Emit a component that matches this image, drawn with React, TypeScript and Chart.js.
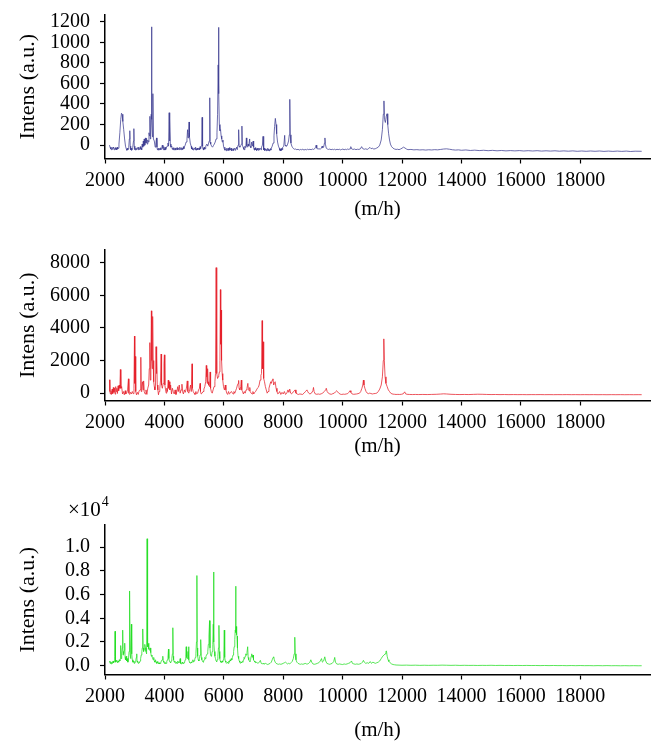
import React, { useEffect, useRef } from "react";
import { Chart, registerables } from "chart.js";

Chart.register(...registerables);

// ---------- data ----------
const X_TICKS = [2000, 4000, 6000, 8000, 10000, 12000, 14000, 16000, 18000];
const Y_TICKS_1 = [0, 200, 400, 600, 800, 1000, 1200];
const Y_TICKS_2 = [0, 2000, 4000, 6000, 8000];
const Y_TICKS_3 = [0, 2000, 4000, 6000, 8000, 10000]; // shown as ×10^4

const X_TITLE = "(m/h)";
const Y_TITLE = "Intens (a.u.)";

// [m/z, intensity]
const BLUE_SPECTRUM: [number, number][] = [
  [2150, 0], [2170, -20], [2185, -38], [2200, -30], [2215, -45], [2230, -22], [2245, -40], [2260, -35], [2275, -20], [2290, -28], [2305, -45], [2320, -38], [2335, -30], [2350, -25],
  [2365, -42], [2380, -33], [2395, -45], [2410, -20], [2425, -38], [2440, -30], [2470, 10], [2500, 120], [2530, 250], [2555, 310], [2575, 300],
  [2600, 230], [2630, 150], [2660, 60], [2690, -10], [2720, -40], [2735, -50], [2750, -30], [2765, -45], [2780, -38], [2800, -20],
  [2820, 60], [2835, 140], [2850, -10], [2865, -45], [2880, -30], [2895, -50], [2910, -40], [2925, -30], [2940, -25], [2960, 40], [2972, 160],
  [2985, -10], [3000, -45], [3010, -35], [3025, -48], [3040, -28], [3055, -44], [3070, -38], [3085, -25], [3100, -30], [3115, -45], [3130, -20], [3145, -42], [3160, -35], [3175, -28], [3190, -15],
  [3205, -40], [3220, -30], [3235, -45], [3250, 10], [3270, -20], [3290, 40], [3305, -10], [3320, 60], [3340, 0], [3360, 70],
  [3380, 20], [3400, 65], [3420, 10], [3440, 50], [3460, 30], [3480, 120], [3500, 90], [3512, 280],
  [3525, 60], [3540, 100], [3555, 300], [3566, 1150], [3580, 250], [3600, 80], [3612, 500], [3630, 60],
  [3660, 40], [3690, -20], [3710, 10], [3735, 70], [3750, -20], [3765, -45], [3780, -35], [3795, -48], [3810, -28], [3825, -46], [3840, -40],
  [3855, -30], [3870, -25], [3885, -45], [3900, -38], [3915, -20], [3930, 0], [3950, -30], [3965, -45], [3980, -15], [4000, -35], [4015, -48], [4030, -22], [4045, -42], [4060, -30],
  [4090, -10], [4120, 20], [4140, -10], [4160, 315], [4172, 40], [4185, 255], [4200, 10], [4220, -20],
  [4250, -10], [4265, -40], [4280, -30], [4295, -45], [4310, -25], [4325, -46], [4340, -38], [4355, -28], [4370, -30], [4385, -48], [4400, -35], [4415, -26], [4430, -25], [4445, -45], [4460, -40],
  [4475, -28], [4490, -30], [4505, -44], [4520, -20], [4535, -40], [4550, -35], [4565, -45], [4580, -25], [4595, -40], [4610, -30], [4625, -42], [4640, -15], [4655, -35], [4670, -20], [4700, 0],
  [4730, 30], [4760, 60], [4780, 150], [4795, 70], [4815, 120], [4830, 225], [4845, 80], [4870, 20],
  [4900, -10], [4915, -38], [4930, -25], [4945, -45], [4960, -30], [4975, -48], [4990, -40], [5005, -28], [5020, -30], [5035, -46], [5050, -20], [5065, -42], [5080, -35], [5095, -48], [5110, -28],
  [5125, -45], [5140, -40], [5155, -30], [5170, -30], [5185, -44], [5200, -15], [5215, -38], [5230, -25], [5255, 0], [5270, 270], [5285, -10], [5300, -42], [5310, -30],
  [5325, -45], [5340, -20], [5355, -40], [5370, -35], [5385, -20], [5400, -10], [5430, 10], [5460, -10], [5490, 20], [5510, 40], [5527, 460],
  [5540, 30], [5560, 10], [5590, -10], [5620, -20], [5650, -5], [5680, 10], [5710, 30], [5740, 60],
  [5770, 120], [5790, 300], [5810, 780], [5822, 1145], [5835, 500], [5850, 200], [5870, 140], [5890, 150],
  [5910, 90], [5930, 60], [5950, 30], [5970, 50], [5990, -10], [6010, -30], [6025, -50], [6040, -20], [6055, -45], [6070, -40],
  [6085, -55], [6100, -30], [6115, -50], [6130, -45], [6145, -30], [6160, -35], [6175, -52], [6190, -25], [6205, -48], [6220, -45], [6235, -35], [6250, -30], [6265, -55], [6280, -50], [6295, -40], [6310, -35],
  [6325, -55], [6340, -45], [6355, -35], [6370, -30], [6385, -50], [6400, -40], [6415, -30], [6430, -20], [6445, -42], [6460, -30], [6480, 0], [6500, 150], [6515, -10],
  [6540, -20], [6570, -5], [6595, 10], [6610, 185], [6625, 0], [6650, -20], [6665, -42], [6680, -30], [6695, -45], [6710, -10],
  [6740, -25], [6760, 70], [6775, -10], [6800, -20], [6820, 10], [6840, -10], [6870, 60], [6885, -10],
  [6910, -25], [6940, 30], [6960, -10], [6990, 40], [7005, -20], [7020, -45], [7030, -30], [7045, -48], [7060, -25], [7075, -45], [7090, -40],
  [7105, -52], [7120, -30], [7135, -48], [7150, -35], [7165, -50], [7180, -28], [7195, -46], [7210, -40], [7225, -30], [7240, -30], [7255, -45], [7270, -20], [7300, 0], [7320, 85],
  [7335, -5], [7350, -45], [7360, -30], [7375, -52], [7390, -40], [7405, -50], [7420, -35], [7435, -55], [7450, -42], [7465, -50], [7480, -30], [7495, -52], [7510, -38], [7525, -55], [7540, -45],
  [7555, -52], [7570, -35], [7585, -48], [7600, -30], [7630, -10], [7660, 20], [7690, 90], [7710, 180], [7735, 260], [7760, 200],
  [7780, 110], [7810, 30], [7840, -10], [7870, -30], [7885, -50], [7900, -40], [7915, -55], [7930, -35], [7945, -50], [7960, -30], [7975, -45], [7990, -20],
  [8020, -10], [8050, 95], [8065, 0], [8090, -10], [8120, -10], [8150, 10], [8180, 40], [8205, 100],
  [8222, 445], [8238, 100], [8260, 20], [8290, -10], [8320, -25], [8350, -35], [8380, -40], [8420, -38],
  [8460, -45], [8500, -40], [8540, -48], [8580, -42], [8620, -45], [8660, -40], [8700, -48], [8740, -42],
  [8780, -46], [8820, -40], [8860, -44], [8900, -40], [8940, -45], [8980, -38], [9020, -42], [9060, -35],
  [9090, -20], [9110, 0], [9130, -30], [9170, -38], [9210, -35], [9250, -40], [9280, -30], [9310, -10],
  [9330, -25], [9360, -20], [9390, 20], [9405, 70], [9420, 10], [9450, -30], [9490, -38], [9530, -42],
  [9570, -38], [9610, -45], [9650, -40], [9690, -44], [9730, -40], [9770, -46], [9810, -40], [9850, -44],
  [9890, -40], [9930, -46], [9970, -42], [10010, -38], [10050, -45], [10090, -40], [10130, -44], [10170, -38],
  [10210, -42], [10250, -35], [10275, -15], [10300, -35], [10350, -42], [10400, -38], [10450, -44], [10500, -40],
  [10550, -42], [10600, -36], [10640, -15], [10680, -35], [10730, -40], [10780, -36], [10830, -42], [10880, -32],
  [10920, -22], [10960, -35], [11000, -30], [11050, -38], [11100, -35], [11150, -28], [11200, -20], [11250, 0],
  [11300, 50], [11340, 150], [11370, 300], [11392, 430], [11410, 250], [11440, 220], [11470, 280], [11495, 305],
  [11520, 200], [11550, 110], [11580, 50], [11610, 10], [11650, -15], [11700, -30], [11750, -38], [11800, -42],
  [11850, -40], [11900, -44], [11950, -38], [12000, -30], [12050, -20], [12100, -28], [12150, -38], [12200, -44],
  [12300, -42], [12400, -46], [12500, -44], [12600, -47], [12700, -45], [12800, -48], [12900, -45], [13000, -47],
  [13100, -44], [13200, -46], [13300, -42], [13400, -38], [13500, -36], [13600, -40], [13700, -45], [13800, -48],
  [13900, -46], [14000, -50], [14150, -47], [14300, -52], [14450, -49], [14600, -53], [14750, -50], [14900, -54],
  [15050, -51], [15200, -55], [15350, -52], [15500, -56], [15650, -53], [15800, -56], [15950, -53], [16100, -57],
  [16250, -54], [16400, -57], [16550, -54], [16700, -58], [16850, -55], [17000, -58], [17150, -55], [17300, -59],
  [17450, -56], [17600, -59], [17750, -56], [17900, -60], [18050, -57], [18200, -60], [18350, -57], [18500, -60],
  [18650, -57], [18800, -61], [18950, -58], [19100, -61], [19250, -58], [19400, -61], [19550, -58], [19700, -62],
  [19850, -59], [20070, -60],
];

const RED_SPECTRUM: [number, number][] = [
  [2150, 820], [2165, 100], [2180, -50], [2200, 150], [2220, -80], [2240, 250], [2260, -30], [2280, 350],
  [2300, 50], [2320, 300], [2340, -60], [2360, 400], [2380, 100], [2400, 300], [2420, -20], [2440, 450],
  [2460, 150], [2480, 500], [2500, 300], [2518, 1450], [2535, 300], [2560, 400], [2590, -50], [2620, 100],
  [2650, -100], [2680, 150], [2700, -50], [2730, 0], [2760, 200], [2789, 880], [2805, 0], [2830, -80],
  [2860, 50], [2890, -50], [2920, 100], [2950, -30], [2975, 300], [2992, 3500], [3005, 600], [3018, 2250],
  [3035, 100], [3060, -100], [3090, 50], [3120, -80], [3150, 150], [3180, 200], [3206, 2200], [3220, 100],
  [3240, 400], [3260, 700], [3280, 200], [3300, 750], [3320, 100], [3350, -50], [3380, 200], [3410, -80],
  [3440, 300], [3470, 500], [3490, 1500], [3510, 3100], [3525, 800], [3545, 1800], [3562, 5050], [3575, 2000],
  [3590, 1500], [3605, 4700], [3620, 2000], [3640, 700], [3660, 400], [3680, 200], [3700, 500], [3718, 2850],
  [3732, 1200], [3745, 2300], [3760, 500], [3780, 200], [3800, -100], [3820, 100], [3845, 300], [3870, 800],
  [3890, 2400], [3905, 500], [3930, 300], [3960, 600], [3985, 1800], [4000, 2350], [4015, 500], [4040, 200],
  [4060, 0], [4080, 300], [4100, 100], [4130, 800], [4145, 300], [4165, 700], [4185, 200], [4210, 500],
  [4240, -50], [4270, 300], [4300, 100], [4330, -50], [4360, 200], [4390, -80], [4420, 100], [4450, 400],
  [4470, 100], [4500, 500], [4530, 0], [4560, 200], [4590, 550], [4610, 100], [4640, -50], [4670, 200],
  [4700, 50], [4740, 300], [4770, 750], [4790, 100], [4820, 0], [4850, 200], [4880, 500], [4905, 100],
  [4930, 1800], [4945, 300], [4970, 100], [5000, 0], [5030, -80], [5060, 100], [5090, -50], [5120, 0],
  [5150, 200], [5180, 300], [5200, 600], [5215, 100], [5240, -50], [5270, 0], [5300, 100], [5330, 250],
  [5360, 400], [5390, 700], [5410, 1700], [5425, 1000], [5440, 600], [5455, 1500], [5470, 700], [5490, 500],
  [5520, 400], [5540, 1300], [5555, 300], [5580, 100], [5610, 0], [5640, 200], [5670, 400], [5700, 700],
  [5720, 1200], [5742, 7700], [5755, 2500], [5770, 1200], [5790, 900], [5810, 1000], [5830, 1100], [5850, 1300],
  [5870, 2000], [5885, 6350], [5898, 3000], [5912, 5100], [5925, 2000], [5945, 1200], [5965, 800], [5990, 400],
  [6020, 200], [6050, 500], [6070, 200], [6100, 0], [6130, -80], [6160, 100], [6190, -50], [6220, 0],
  [6250, 100], [6280, 50], [6310, -50], [6340, 100], [6370, 0], [6400, 150], [6430, 300], [6460, 500],
  [6485, 600], [6500, 780], [6515, 300], [6540, 200], [6570, 400], [6590, 800], [6605, 200], [6630, 100],
  [6660, -50], [6690, 100], [6720, 0], [6750, 200], [6780, 300], [6810, 600], [6830, 200], [6850, 150],
  [6875, 350], [6890, 100], [6920, 0], [6950, -50], [6980, 100], [7010, -50], [7040, 50], [7070, 100],
  [7100, 200], [7130, 300], [7160, 350], [7190, 500], [7220, 800], [7250, 1100], [7270, 1200], [7290, 4450],
  [7305, 1500], [7322, 3150], [7335, 1200], [7350, 900], [7370, 700], [7400, 400], [7430, 200], [7460, 0],
  [7490, 100], [7520, 300], [7550, 500], [7580, 700], [7600, 600], [7630, 800], [7655, 880], [7680, 500],
  [7710, 650], [7730, 700], [7760, 300], [7790, 100], [7820, -50], [7850, 0], [7880, 100], [7920, -80],
  [7960, 50], [8000, -50], [8040, 100], [8080, -80], [8120, 0], [8160, 200], [8190, 50], [8220, 250],
  [8250, 0], [8280, -50], [8320, 50], [8360, 100], [8400, 200], [8430, 0], [8470, -50], [8510, -80],
  [8560, -50], [8600, -60], [8650, -80], [8700, 0], [8750, 100], [8800, 200], [8830, 80], [8860, 0],
  [8900, -50], [8950, 0], [9000, 150], [9020, 350], [9040, 100], [9080, -50], [9130, -70], [9180, -50],
  [9230, -70], [9280, -40], [9330, 0], [9380, 100], [9430, 200], [9450, 300], [9480, 100], [9520, 0],
  [9570, -50], [9620, -70], [9670, -30], [9720, 0], [9760, 80], [9800, 150], [9830, 80], [9870, 0],
  [9920, -60], [9970, -80], [10020, -60], [10070, -70], [10120, -50], [10170, -30], [10210, 50], [10250, 150],
  [10280, 50], [10320, -50], [10370, -70], [10420, -60], [10470, -50], [10520, -30], [10570, 0], [10610, 100],
  [10650, 300], [10680, 500], [10700, 800], [10720, 500], [10750, 300], [10790, 100], [10830, 0], [10870, -30],
  [10910, 0], [10950, -20], [11000, -50], [11050, -30], [11100, -20], [11150, 0], [11200, 100], [11250, 250],
  [11300, 500], [11340, 1000], [11370, 2000], [11388, 3330], [11405, 2000], [11430, 1000], [11460, 600], [11500, 400],
  [11540, 200], [11580, 100], [11620, 0], [11660, -40], [11700, -60], [11750, -70], [11800, -80], [11860, -75],
  [11920, -80], [11980, -70], [12040, -40], [12090, 80], [12120, -40], [12170, -70], [12250, -80], [12350, -85],
  [12450, -80], [12550, -85], [12700, -80], [12850, -85], [13000, -78], [13150, -70], [13300, -55], [13400, -40],
  [13500, -50], [13650, -70], [13800, -80], [13950, -85], [14100, -80], [14250, -85], [14400, -75], [14550, -65],
  [14700, -70], [14850, -80], [15000, -85], [15150, -82], [15300, -88], [15450, -84], [15600, -90], [15750, -86],
  [15900, -90], [16050, -87], [16200, -92], [16350, -88], [16500, -90], [16650, -87], [16800, -92], [16950, -89],
  [17100, -93], [17250, -89], [17400, -92], [17550, -88], [17700, -93], [17850, -90], [18000, -94], [18150, -90],
  [18300, -93], [18450, -90], [18600, -94], [18750, -91], [18900, -95], [19050, -91], [19200, -94], [19350, -91],
  [19500, -95], [19650, -92], [19800, -95], [19950, -92], [20070, -94],
];

const GREEN_SPECTRUM: [number, number][] = [
  [2150, 400], [2170, 200], [2190, 350], [2210, 150], [2230, 300], [2250, 200], [2270, 400], [2290, 250],
  [2310, 350], [2325, 800], [2337, 2900], [2348, 500], [2360, 300], [2380, 450], [2400, 350], [2420, 250],
  [2440, 400], [2460, 300], [2480, 500], [2500, 400], [2515, 600], [2529, 1700], [2540, 600], [2555, 800],
  [2570, 1000], [2585, 1500], [2596, 3000], [2608, 900], [2620, 1200], [2635, 1000], [2650, 1300], [2664, 1900],
  [2676, 700], [2690, 500], [2710, 800], [2730, 400], [2750, 600], [2770, 300], [2790, 500], [2810, 1200],
  [2823, 4000], [2833, 6300], [2845, 1000], [2860, 600], [2875, 1500], [2889, 3500], [2900, 1000], [2920, 500],
  [2940, 300], [2960, 400], [2980, 200], [3000, 350], [3020, 300], [3040, 500], [3055, 700], [3069, 1000],
  [3080, 400], [3100, 300], [3120, 200], [3140, 300], [3160, 250], [3180, 400], [3200, 600], [3220, 900],
  [3240, 1200], [3255, 1500], [3271, 3100], [3285, 1500], [3300, 1200], [3320, 1400], [3340, 1800], [3360, 1500],
  [3380, 1200], [3400, 1000], [3417, 10700], [3428, 2000], [3440, 1600], [3455, 1800], [3468, 1900], [3480, 1400],
  [3500, 1300], [3520, 1500], [3540, 1100], [3560, 800], [3580, 900], [3600, 600], [3620, 500], [3640, 700],
  [3660, 400], [3680, 300], [3700, 500], [3720, 300], [3740, 200], [3760, 350], [3780, 250], [3800, 150],
  [3820, 250], [3840, 150], [3860, 200], [3880, 300], [3900, 400], [3920, 500], [3946, 800], [3960, 400],
  [3980, 300], [4000, 200], [4020, 300], [4040, 150], [4060, 200], [4080, 350], [4100, 500], [4120, 700],
  [4137, 1400], [4150, 600], [4170, 400], [4190, 300], [4210, 250], [4230, 400], [4250, 600], [4270, 1000],
  [4284, 3200], [4298, 800], [4310, 500], [4330, 300], [4350, 400], [4370, 250], [4390, 200], [4410, 300],
  [4430, 200], [4450, 400], [4470, 300], [4490, 250], [4510, 300], [4531, 600], [4545, 200], [4560, 150],
  [4580, 200], [4600, 300], [4620, 200], [4640, 150], [4660, 250], [4680, 300], [4700, 500], [4720, 800],
  [4734, 1600], [4748, 700], [4765, 600], [4780, 800], [4795, 1200], [4813, 1600], [4828, 500], [4845, 300],
  [4860, 250], [4880, 200], [4900, 300], [4920, 250], [4940, 400], [4960, 500], [4980, 300], [5000, 400],
  [5020, 500], [5040, 700], [5060, 1000], [5080, 2000], [5094, 7600], [5106, 1500], [5120, 800], [5140, 500],
  [5160, 400], [5180, 600], [5200, 900], [5215, 1300], [5229, 2200], [5243, 700], [5260, 500], [5280, 400],
  [5300, 300], [5320, 400], [5340, 500], [5360, 700], [5380, 600], [5400, 800], [5420, 900], [5440, 1000],
  [5460, 1200], [5480, 1800], [5500, 2500], [5521, 3800], [5535, 1500], [5550, 1000], [5570, 800], [5590, 900],
  [5610, 1200], [5630, 1800], [5645, 3500], [5656, 7900], [5668, 2000], [5685, 1200], [5700, 800], [5720, 600],
  [5740, 400], [5760, 350], [5780, 500], [5800, 800], [5820, 1500], [5836, 3400], [5850, 1200], [5865, 600],
  [5880, 400], [5900, 300], [5920, 250], [5940, 400], [5960, 300], [5980, 500], [6000, 800], [6016, 3000],
  [6030, 700], [6050, 400], [6070, 300], [6090, 200], [6110, 250], [6130, 300], [6150, 200], [6170, 400],
  [6190, 300], [6210, 500], [6230, 400], [6250, 600], [6270, 500], [6290, 700], [6310, 900], [6330, 1200],
  [6350, 1600], [6370, 2200], [6385, 3000], [6399, 6700], [6410, 2800], [6420, 3300], [6432, 2600], [6445, 2500],
  [6460, 1500], [6480, 800], [6500, 600], [6520, 400], [6540, 300], [6560, 200], [6580, 300], [6600, 250],
  [6620, 350], [6640, 300], [6660, 500], [6680, 700], [6700, 600], [6720, 800], [6740, 1000], [6760, 900],
  [6780, 1100], [6804, 1600], [6820, 700], [6840, 500], [6860, 400], [6880, 350], [6900, 500], [6920, 800],
  [6940, 1000], [6960, 700], [6984, 900], [7000, 500], [7020, 400], [7050, 300], [7080, 250], [7110, 300],
  [7140, 200], [7170, 250], [7200, 300], [7231, 450], [7260, 200], [7290, 150], [7320, 200], [7350, 150],
  [7380, 150], [7410, 200], [7440, 150], [7480, 100], [7520, 150], [7560, 200], [7600, 300], [7630, 500],
  [7660, 700], [7681, 750], [7700, 500], [7730, 300], [7760, 200], [7800, 150], [7840, 120], [7880, 150],
  [7920, 120], [7960, 150], [8000, 200], [8040, 250], [8075, 300], [8100, 250], [8140, 150], [8180, 200],
  [8220, 150], [8260, 250], [8300, 350], [8340, 600], [8370, 1000], [8390, 2400], [8405, 1000], [8430, 500],
  [8460, 300], [8500, 200], [8540, 150], [8580, 120], [8620, 150], [8660, 120], [8700, 150], [8740, 200],
  [8780, 150], [8820, 150], [8860, 200], [8900, 300], [8930, 500], [8960, 300], [9000, 150], [9050, 120],
  [9100, 150], [9150, 200], [9200, 250], [9250, 400], [9290, 600], [9320, 300], [9360, 400], [9400, 750],
  [9430, 400], [9470, 200], [9520, 150], [9560, 120], [9600, 150], [9650, 200], [9700, 350], [9735, 700],
  [9760, 300], [9800, 150], [9850, 120], [9900, 150], [9950, 120], [10000, 100], [10050, 150], [10100, 120],
  [10150, 150], [10200, 200], [10250, 250], [10300, 400], [10330, 200], [10380, 150], [10430, 120], [10480, 150],
  [10530, 120], [10580, 150], [10630, 200], [10670, 300], [10700, 450], [10730, 300], [10780, 200], [10830, 250],
  [10880, 200], [10930, 350], [10970, 200], [11020, 300], [11060, 250], [11100, 200], [11150, 250], [11200, 300],
  [11250, 400], [11300, 600], [11350, 800], [11400, 900], [11430, 1000], [11460, 1200], [11476, 1250], [11500, 800],
  [11530, 500], [11560, 350], [11600, 250], [11650, 150], [11700, 100], [11750, 80], [11800, 60], [11900, 50],
  [12000, 40], [12150, 50], [12300, 35], [12450, 45], [12600, 30], [12750, 40], [12900, 30], [13050, 40],
  [13200, 35], [13350, 50], [13500, 40], [13650, 30], [13800, 40], [13950, 25], [14100, 35], [14250, 25],
  [14400, 30], [14550, 20], [14700, 30], [14850, 25], [15000, 35], [15150, 20], [15300, 30], [15450, 20],
  [15600, 25], [15750, 15], [15900, 25], [16050, 15], [16200, 25], [16350, 15], [16500, 20], [16650, 10],
  [16800, 20], [16950, 10], [17100, 20], [17250, 10], [17400, 15], [17550, 5], [17700, 15], [17850, 5],
  [18000, 15], [18150, 5], [18300, 10], [18450, 0], [18600, 10], [18750, 0], [18900, 10], [19050, 0],
  [19200, 5], [19350, -5], [19500, 5], [19650, -5], [19800, 5], [19950, -5], [20070, 0],
];

// ---------- styling ----------
const FONT = "'Liberation Serif', 'Times New Roman', Times, serif";
const X_MIN = 2000;
const X_MAX = 20350;

type PanelProps = {
  spectrum: [number, number][];
  color: string;
  yMin: number;
  yMax: number;
  yTicks: number[];
  yFormat: (v: number) => string;
  top: number;
  height: number;
  padTop: number;
  xScaleHeight: number;
  xTitlePadBottom: number;
  exponent?: boolean;
};

function zeroPadding(s: any) {
  s.paddingTop = 0;
  s.paddingBottom = 0;
  s.paddingLeft = 0;
  s.paddingRight = 0;
}

function Panel(p: PanelProps) {
  const ref = useRef<HTMLCanvasElement | null>(null);

  useEffect(() => {
    if (!ref.current) return;
    const exponentPlugin = {
      id: "exponent",
      afterDraw(chart: any) {
        if (!p.exponent) return;
        const ctx = chart.ctx;
        const area = chart.chartArea;
        ctx.save();
        ctx.fillStyle = "#000";
        ctx.textBaseline = "middle";
        ctx.textAlign = "left";
        ctx.font = `21px ${FONT}`;
        const base = "\u00d710";
        const x0 = area.left - 37;
        const y0 = area.top - 15;
        ctx.fillText(base, x0, y0);
        const w = ctx.measureText(base).width;
        ctx.font = `14px ${FONT}`;
        ctx.fillText("4", x0 + w + 1, y0 - 8);
        ctx.restore();
      },
    };

    const chart = new Chart(ref.current, {
      type: "line",
      data: {
        datasets: [
          {
            data: p.spectrum.map(([x, y]) => ({ x, y })),
            borderColor: p.color,
            borderWidth: 0.75,
            pointRadius: 0,
            tension: 0,
            fill: false,
          },
        ],
      },
      options: {
        animation: false,
        responsive: false,
        maintainAspectRatio: false,
        events: [],
        parsing: false as any,
        layout: { padding: { top: p.padTop, right: 15, left: 0, bottom: 0 } },
        plugins: { legend: { display: false }, tooltip: { enabled: false }, title: { display: false } },
        scales: {
          x: {
            type: "linear",
            min: X_MIN,
            max: X_MAX,
            grid: {
              display: true,
              drawOnChartArea: false,
              drawTicks: true,
              tickLength: 5,
              tickColor: "#000",
              tickWidth: 1.2,
            },
            border: { display: true, color: "#000", width: 1.5 },
            ticks: {
              font: { family: FONT, size: 20 },
              color: "#000",
              padding: 5,
              maxRotation: 0,
              autoSkip: false,
              callback: (v: any) => String(v),
            },
            afterBuildTicks: (s: any) => {
              s.ticks = X_TICKS.map((v) => ({ value: v }));
            },
            afterFit: (s: any) => {
              s.height = p.xScaleHeight;
              zeroPadding(s);
            },
            title: {
              display: true,
              text: X_TITLE,
              font: { family: FONT, size: 21 },
              color: "#000",
              padding: { top: 0, bottom: p.xTitlePadBottom },
            },
          },
          y: {
            type: "linear",
            min: p.yMin,
            max: p.yMax,
            grid: {
              display: true,
              drawOnChartArea: false,
              drawTicks: true,
              tickLength: 5,
              tickColor: "#000",
              tickWidth: 1.2,
            },
            border: { display: true, color: "#000", width: 1.5 },
            ticks: {
              font: { family: FONT, size: 20 },
              color: "#000",
              padding: 10,
              autoSkip: false,
              callback: (v: any) => p.yFormat(Number(v)),
            },
            afterBuildTicks: (s: any) => {
              s.ticks = p.yTicks.map((v) => ({ value: v }));
            },
            afterFit: (s: any) => {
              s.width = 105;
              zeroPadding(s);
            },
            title: {
              display: true,
              text: Y_TITLE,
              font: { family: FONT, size: 22 },
              color: "#000",
              padding: { top: 15, bottom: 0 },
            },
          },
        },
      },
      plugins: [exponentPlugin],
    } as any);
    return () => chart.destroy();
  }, []);

  return (
    <canvas
      ref={ref}
      width={665}
      height={p.height}
      style={{ position: "absolute", left: 0, top: p.top, width: 665, height: p.height, display: "block" }}
    />
  );
}

export default function App() {
  return (
    <div style={{ position: "absolute", left: 0, top: 0, width: 665, height: 754, background: "#fff" }}>
      <Panel
        spectrum={BLUE_SPECTRUM}
        color="#3c3c92"
        yMin={-130}
        yMax={1265}
        yTicks={Y_TICKS_1}
        yFormat={(v) => String(v)}
        top={0}
        height={228}
        padTop={15}
        xScaleHeight={69.5}
        xTitlePadBottom={5.9}
      />
      <Panel
        spectrum={RED_SPECTRUM}
        color="#e61e28"
        yMin={-450}
        yMax={8780}
        yTicks={Y_TICKS_2}
        yFormat={(v) => String(v)}
        top={236}
        height={228}
        padTop={14}
        xScaleHeight={63.5}
        xTitlePadBottom={4.7}
      />
      <Panel
        spectrum={GREEN_SPECTRUM}
        color="#22dd22"
        yMin={-740}
        yMax={11860}
        yTicks={Y_TICKS_3}
        yFormat={(v) => (v / 10000).toFixed(1)}
        top={480}
        height={274}
        padTop={45}
        xScaleHeight={79.5}
        xTitlePadBottom={10.9}
        exponent
      />
    </div>
  );
}
